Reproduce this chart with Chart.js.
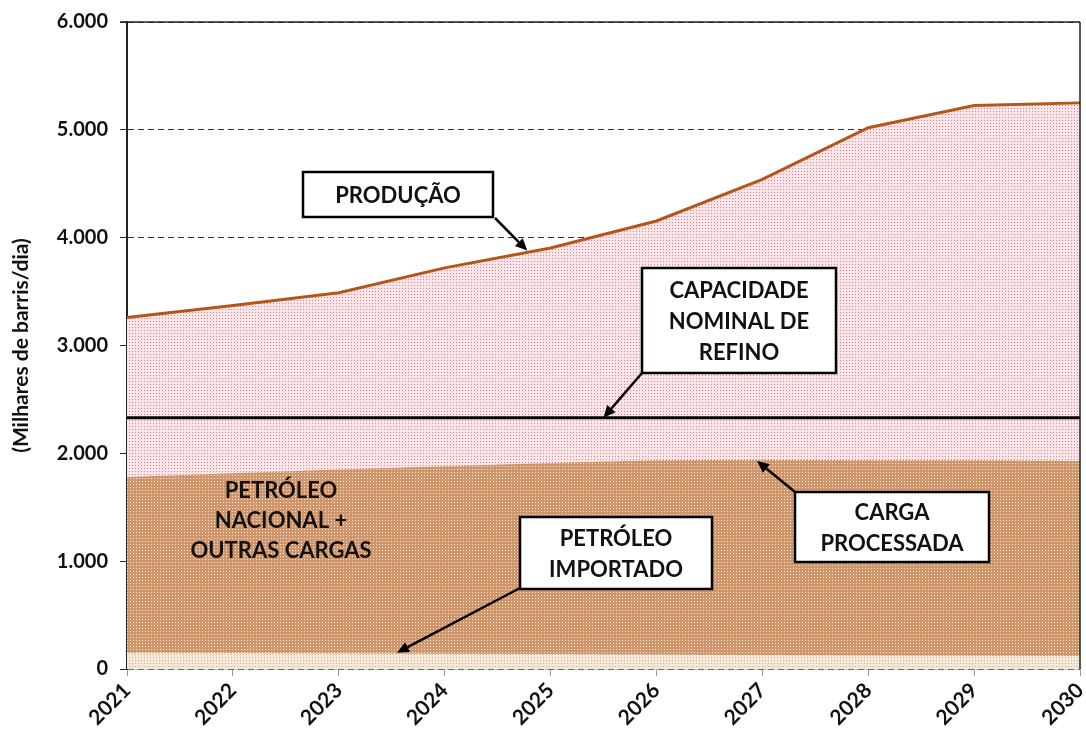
<!DOCTYPE html>
<html><head><meta charset="utf-8">
<script src="https://cdn.jsdelivr.net/npm/chart.js@4.4.1/dist/chart.umd.min.js"></script>
<style>html,body{margin:0;padding:0;background:#fff;}#wrap{width:1086px;height:729px;}</style>
</head><body><div id="wrap"><canvas id="c" width="1086" height="729"></canvas></div>
<script>
const years = ['2021','2022','2023','2024','2025','2026','2027','2028','2029','2030'];
const producao = [3260,3370,3490,3720,3905,4155,4540,5020,5225,5250];
const capacidadeNominal = [2330,2330,2330,2330,2330,2330,2330,2330,2330,2330];
const cargaProcessada = [1780,1815,1850,1880,1910,1935,1940,1935,1935,1930];
const petroleoImportado = [150,148,145,142,140,135,130,125,122,120];
const yMin = 0, yMax = 6000, yStep = 1000;

const FONT = 'Lato, "Open Sans", sans-serif';

function makePattern(size, bg, fg, dots) {
  const c = document.createElement('canvas');
  c.width = size; c.height = size;
  const g = c.getContext('2d');
  g.fillStyle = bg; g.fillRect(0, 0, size, size);
  g.fillStyle = fg;
  dots.forEach(d => g.fillRect(d[0], d[1], 1, 1));
  return g.createPattern(c, 'repeat');
}
const ctx = document.getElementById('c').getContext('2d');
const pinkPattern = makePattern(3, '#fae6e9', '#e2848f', [[0,0]]);
const brownPattern = makePattern(3, '#d09669', '#f7e8da', [[1,1]]);
const lightPattern = makePattern(3, '#f4e8db', '#d4b093', [[0,0]]);

function fmt(v) { return v === 0 ? '0' : v.toLocaleString('pt-BR'); }

const annotations = [
  {lines:['PRODUÇÃO'], box:[303,172,493,217], from:[495,218], to:{x:3.78, y:3880}},
  {lines:['CAPACIDADE','NOMINAL DE','REFINO'], box:[642,268,836,373], from:[642,373], to:{x:4.5, y:2330}},
  {lines:['PETRÓLEO','IMPORTADO'], box:[520,517,712,589], from:[520,588], to:{x:2.55, y:150}},
  {lines:['CARGA','PROCESSADA'], box:[795,492,989,562], from:[795,492], to:{x:5.95, y:1930}}
];
const freeText = {lines:['PETRÓLEO','NACIONAL +','OUTRAS CARGAS'], x:281, y:491, lh:30};

const annotPlugin = {
  id: 'annot',
  afterDraw(chart) {
    const g = chart.ctx, xs = chart.scales.x, ys = chart.scales.y, ca = chart.chartArea;
    g.save();
    g.strokeStyle = '#222'; g.lineWidth = 1.5; g.setLineDash([]);
    g.beginPath(); g.moveTo(ca.left - 7, ca.top); g.lineTo(ca.right, ca.top); g.stroke();
    g.beginPath(); g.moveTo(ca.right, ca.top); g.lineTo(ca.right, ca.bottom); g.stroke();
    g.fillStyle = '#111';
    g.font = 'bold 22px ' + FONT;
    g.textAlign = 'center'; g.textBaseline = 'middle';
    freeText.lines.forEach((t, i) => g.fillText(t, freeText.x, freeText.y + i * freeText.lh));
    annotations.forEach(a => {
      const tx = xs.getPixelForValue(a.to.x), ty = ys.getPixelForValue(a.to.y);
      g.strokeStyle = '#000'; g.fillStyle = '#000'; g.lineWidth = 2.5;
      const ang = Math.atan2(ty - a.from[1], tx - a.from[0]);
      const hl = 12, hw = 5.5;
      const bx = tx - hl * Math.cos(ang), by = ty - hl * Math.sin(ang);
      g.beginPath(); g.moveTo(a.from[0], a.from[1]); g.lineTo(bx, by); g.stroke();
      g.beginPath();
      g.moveTo(tx, ty);
      g.lineTo(bx + hw * Math.sin(ang), by - hw * Math.cos(ang));
      g.lineTo(bx - hw * Math.sin(ang), by + hw * Math.cos(ang));
      g.closePath(); g.fill();
      const [x1, y1, x2, y2] = a.box;
      g.fillStyle = '#fff'; g.fillRect(x1, y1, x2 - x1, y2 - y1);
      g.lineWidth = 2.5; g.strokeRect(x1, y1, x2 - x1, y2 - y1);
      g.fillStyle = '#111';
      const lh = 31, cy = (y1 + y2) / 2 + 1;
      a.lines.forEach((t, i) => {
        g.fillText(t, (x1 + x2) / 2, cy + (i - (a.lines.length - 1) / 2) * lh);
      });
    });
    g.restore();
  }
};

new Chart(ctx, {
  type: 'line',
  data: {
    labels: years,
    datasets: [
      {label:'Capacidade nominal de refino', data: capacidadeNominal, borderColor:'#000', borderWidth:3, fill:false, pointRadius:0, order:0},
      {label:'Petróleo importado', data: petroleoImportado, borderWidth:0, borderColor:'rgba(0,0,0,0)', backgroundColor: lightPattern, fill:'origin', pointRadius:0, order:1},
      {label:'Carga processada', data: cargaProcessada, borderWidth:0, borderColor:'rgba(0,0,0,0)', backgroundColor: brownPattern, fill:'origin', pointRadius:0, order:2},
      {label:'Produção', data: producao, borderColor:'#b3561b', borderWidth:3, backgroundColor: pinkPattern, fill:'origin', pointRadius:0, order:3}
    ]
  },
  options: {
    responsive: false,
    animation: false,
    events: [],
    layout: {padding: {left: 4, top: 22, right: 6, bottom: 0}},
    plugins: {legend: {display:false}, tooltip: {enabled:false}},
    elements: {line: {tension: 0}},
    scales: {
      x: {
        offset: false,
        grid: {drawOnChartArea:false, drawTicks:true, tickLength:7, tickColor:'#999', color:'#999'},
        border: {color:'#999', width:1.5},
        ticks: {maxRotation:45, minRotation:45, color:'#111', padding:2, font:{family:FONT, weight:'bold', size:21}},
        afterFit(s) { s.height = 60; s.paddingLeft = 0; s.paddingRight = 0; }
      },
      y: {
        min: yMin, max: yMax,
        ticks: {stepSize: yStep, color:'#111', padding:12, font:{family:FONT, weight:'bold', size:20}, callback: v => fmt(v)},
        grid: {color:'#333', lineWidth:1, tickLength:7, tickColor:'#222', tickBorderDash:[100,0]},
        border: {color:'#222', width:2, dash:[6,4]},
        title: {display:true, text:'(Milhares de barris/dia)', color:'#111', font:{family:FONT, weight:'bold', size:21}, padding:{top:5, bottom:0}},
        afterFit(s) { s.width = 123; s.paddingTop = 0; s.paddingBottom = 0; }
      }
    }
  },
  plugins: [annotPlugin]
});
</script></body></html>
